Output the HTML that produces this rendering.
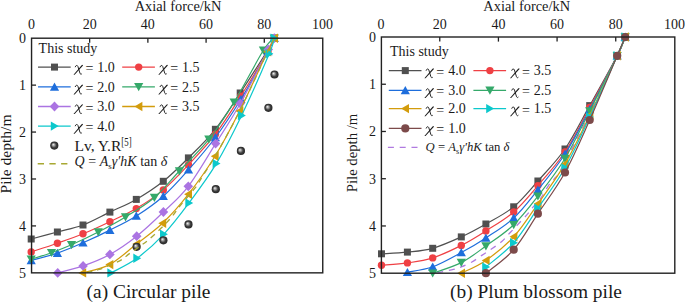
<!DOCTYPE html>
<html><head><meta charset="utf-8"><style>
html,body{margin:0;padding:0;background:#fff;}
svg{display:block;}
text{font-family:"Liberation Serif",serif;fill:#1a1a1a;}
</style></head><body>
<svg width="685" height="302" viewBox="0 0 685 302">
<defs>
<radialGradient id="ballg" cx="0.5" cy="0.5" r="0.5" fx="0.36" fy="0.36">
<stop offset="0" stop-color="#f4f4f4"/><stop offset="0.3" stop-color="#a0a0a0"/><stop offset="0.62" stop-color="#404040"/><stop offset="1" stop-color="#242424"/>
</radialGradient>
</defs>
<rect width="685" height="302" fill="#fff"/>

<g>
<svg x="0" y="0" width="685" height="302" overflow="visible">
<path d="M31.20,239.00 C35.57,237.83 48.77,234.33 57.40,232.00 C66.03,229.67 74.25,228.32 83.00,225.00 C91.75,221.68 101.02,216.37 109.90,212.10 C118.78,207.83 127.40,204.53 136.30,199.40 C145.20,194.27 154.62,188.22 163.30,181.30 C171.98,174.38 179.72,166.57 188.40,157.90 C197.08,149.23 206.77,140.12 215.40,129.30 C224.03,118.48 231.52,106.13 240.20,93.00 C248.88,79.87 261.82,59.63 267.50,50.50 C273.18,41.37 273.17,40.25 274.30,38.20" fill="none" stroke="#505050" stroke-width="1.2"/><rect x="27.70" y="235.50" width="7.0" height="7.0" fill="#505050"/><rect x="53.90" y="228.50" width="7.0" height="7.0" fill="#505050"/><rect x="79.50" y="221.50" width="7.0" height="7.0" fill="#505050"/><rect x="106.40" y="208.60" width="7.0" height="7.0" fill="#505050"/><rect x="132.80" y="195.90" width="7.0" height="7.0" fill="#505050"/><rect x="159.80" y="177.80" width="7.0" height="7.0" fill="#505050"/><rect x="184.90" y="154.40" width="7.0" height="7.0" fill="#505050"/><rect x="211.90" y="125.80" width="7.0" height="7.0" fill="#505050"/><rect x="236.70" y="89.50" width="7.0" height="7.0" fill="#505050"/><rect x="264.00" y="47.00" width="7.0" height="7.0" fill="#505050"/><rect x="270.80" y="34.70" width="7.0" height="7.0" fill="#505050"/>
<path d="M31.20,251.90 C35.57,250.45 48.77,246.22 57.40,243.20 C66.03,240.18 74.25,237.38 83.00,233.80 C91.75,230.22 101.02,225.90 109.90,221.70 C118.78,217.50 127.40,213.90 136.30,208.60 C145.20,203.30 154.60,197.20 163.30,189.90 C172.00,182.60 179.82,174.08 188.50,164.80 C197.18,155.52 206.70,145.62 215.40,134.20 C224.10,122.78 231.93,110.17 240.70,96.30 C249.47,82.43 262.40,60.68 268.00,51.00 C273.60,41.32 273.25,40.33 274.30,38.20" fill="none" stroke="#ef4044" stroke-width="1.2"/><circle cx="31.20" cy="251.90" r="3.7" fill="#ef4044"/><circle cx="57.40" cy="243.20" r="3.7" fill="#ef4044"/><circle cx="83.00" cy="233.80" r="3.7" fill="#ef4044"/><circle cx="109.90" cy="221.70" r="3.7" fill="#ef4044"/><circle cx="136.30" cy="208.60" r="3.7" fill="#ef4044"/><circle cx="163.30" cy="189.90" r="3.7" fill="#ef4044"/><circle cx="188.50" cy="164.80" r="3.7" fill="#ef4044"/><circle cx="215.40" cy="134.20" r="3.7" fill="#ef4044"/><circle cx="240.70" cy="96.30" r="3.7" fill="#ef4044"/><circle cx="268.00" cy="51.00" r="3.7" fill="#ef4044"/><circle cx="274.30" cy="38.20" r="3.7" fill="#ef4044"/>
<path d="M31.20,260.50 C35.57,259.27 48.77,256.05 57.40,253.10 C66.03,250.15 74.25,246.63 83.00,242.80 C91.75,238.97 101.02,234.57 109.90,230.10 C118.78,225.63 127.40,221.65 136.30,216.00 C145.20,210.35 154.60,203.90 163.30,196.20 C172.00,188.50 179.82,179.58 188.50,169.80 C197.18,160.02 206.67,149.25 215.40,137.50 C224.13,125.75 232.13,113.63 240.90,99.30 C249.67,84.97 262.43,61.68 268.00,51.50 C273.57,41.32 273.25,40.42 274.30,38.20" fill="none" stroke="#1e6edc" stroke-width="1.2"/><path d="M31.20,256.10 L35.80,264.30 L26.60,264.30Z" fill="#1e6edc"/><path d="M57.40,248.70 L62.00,256.90 L52.80,256.90Z" fill="#1e6edc"/><path d="M83.00,238.40 L87.60,246.60 L78.40,246.60Z" fill="#1e6edc"/><path d="M109.90,225.70 L114.50,233.90 L105.30,233.90Z" fill="#1e6edc"/><path d="M136.30,211.60 L140.90,219.80 L131.70,219.80Z" fill="#1e6edc"/><path d="M163.30,191.80 L167.90,200.00 L158.70,200.00Z" fill="#1e6edc"/><path d="M188.50,165.40 L193.10,173.60 L183.90,173.60Z" fill="#1e6edc"/><path d="M215.40,133.10 L220.00,141.30 L210.80,141.30Z" fill="#1e6edc"/><path d="M240.90,94.90 L245.50,103.10 L236.30,103.10Z" fill="#1e6edc"/><path d="M268.00,47.10 L272.60,55.30 L263.40,55.30Z" fill="#1e6edc"/><path d="M274.30,33.80 L278.90,42.00 L269.70,42.00Z" fill="#1e6edc"/>
<path d="M31.20,259.30 C34.58,258.20 44.78,255.12 51.50,252.70 C58.22,250.28 63.70,248.25 71.50,244.80 C79.30,241.35 89.30,236.63 98.30,232.00 C107.30,227.37 116.15,222.75 125.50,217.00 C134.85,211.25 145.42,205.17 154.40,197.50 C163.38,189.83 170.33,180.68 179.40,171.00 C188.47,161.32 199.68,150.87 208.80,139.40 C217.92,127.93 225.00,117.05 234.10,102.20 C243.20,87.35 256.70,60.97 263.40,50.30 C270.10,39.63 272.48,40.22 274.30,38.20" fill="none" stroke="#35a96a" stroke-width="1.2"/><path d="M31.20,263.70 L35.80,255.50 L26.60,255.50Z" fill="#35a96a"/><path d="M51.50,257.10 L56.10,248.90 L46.90,248.90Z" fill="#35a96a"/><path d="M71.50,249.20 L76.10,241.00 L66.90,241.00Z" fill="#35a96a"/><path d="M98.30,236.40 L102.90,228.20 L93.70,228.20Z" fill="#35a96a"/><path d="M125.50,221.40 L130.10,213.20 L120.90,213.20Z" fill="#35a96a"/><path d="M154.40,201.90 L159.00,193.70 L149.80,193.70Z" fill="#35a96a"/><path d="M179.40,175.40 L184.00,167.20 L174.80,167.20Z" fill="#35a96a"/><path d="M208.80,143.80 L213.40,135.60 L204.20,135.60Z" fill="#35a96a"/><path d="M234.10,106.60 L238.70,98.40 L229.50,98.40Z" fill="#35a96a"/><path d="M263.40,54.70 L268.00,46.50 L258.80,46.50Z" fill="#35a96a"/><path d="M274.30,42.60 L278.90,34.40 L269.70,34.40Z" fill="#35a96a"/>
<path d="M57.70,272.90 C61.93,271.73 74.40,268.98 83.10,265.90 C91.80,262.82 100.97,259.35 109.90,254.40 C118.83,249.45 127.78,243.27 136.70,236.20 C145.62,229.13 154.80,220.32 163.40,212.00 C172.00,203.68 179.60,197.70 188.30,186.30 C197.00,174.90 206.93,157.40 215.60,143.60 C224.27,129.80 231.52,119.20 240.30,103.50 C249.08,87.80 262.63,60.28 268.30,49.40 C273.97,38.52 273.30,40.07 274.30,38.20" fill="none" stroke="#ab74e2" stroke-width="1.2"/><path d="M57.70,268.00 L62.50,272.90 L57.70,277.80 L52.90,272.90Z" fill="#ab74e2"/><path d="M83.10,261.00 L87.90,265.90 L83.10,270.80 L78.30,265.90Z" fill="#ab74e2"/><path d="M109.90,249.50 L114.70,254.40 L109.90,259.30 L105.10,254.40Z" fill="#ab74e2"/><path d="M136.70,231.30 L141.50,236.20 L136.70,241.10 L131.90,236.20Z" fill="#ab74e2"/><path d="M163.40,207.10 L168.20,212.00 L163.40,216.90 L158.60,212.00Z" fill="#ab74e2"/><path d="M188.30,181.40 L193.10,186.30 L188.30,191.20 L183.50,186.30Z" fill="#ab74e2"/><path d="M215.60,138.70 L220.40,143.60 L215.60,148.50 L210.80,143.60Z" fill="#ab74e2"/><path d="M240.30,98.60 L245.10,103.50 L240.30,108.40 L235.50,103.50Z" fill="#ab74e2"/><path d="M268.30,44.50 L273.10,49.40 L268.30,54.30 L263.50,49.40Z" fill="#ab74e2"/><path d="M274.30,33.30 L279.10,38.20 L274.30,43.10 L269.50,38.20Z" fill="#ab74e2"/>
<path d="M82.50,272.90 C87.02,271.52 100.60,269.42 109.60,264.60 C118.60,259.78 127.68,250.90 136.50,244.00 C145.32,237.10 153.87,231.48 162.50,223.20 C171.13,214.92 179.55,205.47 188.30,194.30 C197.05,183.13 206.45,170.08 215.00,156.20 C223.55,142.32 230.85,128.40 239.60,111.00 C248.35,93.60 261.72,63.93 267.50,51.80 C273.28,39.67 273.17,40.47 274.30,38.20" fill="none" stroke="#d39c0c" stroke-width="1.2"/><path d="M78.30,272.90 L86.20,268.20 L86.20,277.60Z" fill="#d39c0c"/><path d="M105.40,264.60 L113.30,259.90 L113.30,269.30Z" fill="#d39c0c"/><path d="M132.30,244.00 L140.20,239.30 L140.20,248.70Z" fill="#d39c0c"/><path d="M158.30,223.20 L166.20,218.50 L166.20,227.90Z" fill="#d39c0c"/><path d="M184.10,194.30 L192.00,189.60 L192.00,199.00Z" fill="#d39c0c"/><path d="M210.80,156.20 L218.70,151.50 L218.70,160.90Z" fill="#d39c0c"/><path d="M235.40,111.00 L243.30,106.30 L243.30,115.70Z" fill="#d39c0c"/><path d="M263.30,51.80 L271.20,47.10 L271.20,56.50Z" fill="#d39c0c"/><path d="M270.10,38.20 L278.00,33.50 L278.00,42.90Z" fill="#d39c0c"/>
<path d="M111.00,272.90 C115.33,270.47 128.22,264.73 137.00,258.30 C145.78,251.87 155.03,243.53 163.70,234.30 C172.37,225.07 180.23,214.68 189.00,202.90 C197.77,191.12 207.53,178.17 216.30,163.60 C225.07,149.03 232.78,133.80 241.60,115.50 C250.42,97.20 263.75,66.68 269.20,53.80 C274.65,40.92 273.45,40.80 274.30,38.20" fill="none" stroke="#0cc8cc" stroke-width="1.2"/><path d="M115.20,272.90 L107.30,268.20 L107.30,277.60Z" fill="#0cc8cc"/><path d="M141.20,258.30 L133.30,253.60 L133.30,263.00Z" fill="#0cc8cc"/><path d="M167.90,234.30 L160.00,229.60 L160.00,239.00Z" fill="#0cc8cc"/><path d="M193.20,202.90 L185.30,198.20 L185.30,207.60Z" fill="#0cc8cc"/><path d="M220.50,163.60 L212.60,158.90 L212.60,168.30Z" fill="#0cc8cc"/><path d="M245.80,115.50 L237.90,110.80 L237.90,120.20Z" fill="#0cc8cc"/><path d="M273.40,53.80 L265.50,49.10 L265.50,58.50Z" fill="#0cc8cc"/><path d="M278.50,38.20 L270.60,33.50 L270.60,42.90Z" fill="#0cc8cc"/>
<circle cx="274.50" cy="74.50" r="4.1" fill="url(#ballg)"/>
<circle cx="268.40" cy="107.80" r="4.1" fill="url(#ballg)"/>
<circle cx="240.90" cy="150.90" r="4.1" fill="url(#ballg)"/>
<circle cx="215.80" cy="189.20" r="4.1" fill="url(#ballg)"/>
<circle cx="188.50" cy="224.40" r="4.1" fill="url(#ballg)"/>
<circle cx="163.40" cy="240.30" r="4.1" fill="url(#ballg)"/>
<circle cx="136.60" cy="246.80" r="4.1" fill="url(#ballg)"/>
<path d="M274.30,38.20 C273.17,40.47 273.28,39.63 267.50,51.80 C261.72,63.97 248.35,93.77 239.60,111.20 C230.85,128.63 221.22,145.50 215.00,156.40 C208.78,167.30 205.53,171.45 202.30,176.60 C199.07,181.75 199.32,182.43 195.60,187.30 C191.88,192.17 183.72,201.20 180.00,205.80 C176.28,210.40 175.57,212.05 173.30,214.90 C171.03,217.75 169.00,220.13 166.40,222.90 C163.80,225.67 160.80,228.58 157.70,231.50 C154.60,234.42 150.87,237.87 147.80,240.40 C144.73,242.93 142.53,244.37 139.30,246.70 C136.07,249.03 131.60,252.08 128.40,254.40 C125.20,256.72 125.00,258.08 120.10,260.60 C115.20,263.12 104.60,267.50 99.00,269.50 C93.40,271.50 88.58,272.08 86.50,272.60" fill="none" stroke="#a8a832" stroke-width="1.3" stroke-dasharray="5.5,5"/>
</svg>
<text x="31.43" y="29.2" font-size="14" text-anchor="middle">0</text><text x="89.65" y="29.2" font-size="14" text-anchor="middle">20</text><text x="147.87" y="29.2" font-size="14" text-anchor="middle">40</text><text x="206.09" y="29.2" font-size="14" text-anchor="middle">60</text><text x="264.31" y="29.2" font-size="14" text-anchor="middle">80</text><text x="322.53" y="29.2" font-size="14" text-anchor="middle">100</text><text x="26.05" y="43.00" font-size="14" text-anchor="end">0</text><text x="26.05" y="89.93" font-size="14" text-anchor="end">1</text><text x="26.05" y="136.86" font-size="14" text-anchor="end">2</text><text x="26.05" y="183.79" font-size="14" text-anchor="end">3</text><text x="26.05" y="230.72" font-size="14" text-anchor="end">4</text><text x="26.05" y="277.65" font-size="14" text-anchor="end">5</text><line x1="89.65" y1="38.20" x2="89.65" y2="42.80" stroke="#222" stroke-width="1.3"/><line x1="147.87" y1="38.20" x2="147.87" y2="42.80" stroke="#222" stroke-width="1.3"/><line x1="206.09" y1="38.20" x2="206.09" y2="42.80" stroke="#222" stroke-width="1.3"/><line x1="264.31" y1="38.20" x2="264.31" y2="42.80" stroke="#222" stroke-width="1.3"/><line x1="31.55" y1="85.13" x2="36.05" y2="85.13" stroke="#222" stroke-width="1.3"/><line x1="31.55" y1="132.06" x2="36.05" y2="132.06" stroke="#222" stroke-width="1.3"/><line x1="31.55" y1="178.99" x2="36.05" y2="178.99" stroke="#222" stroke-width="1.3"/><line x1="31.55" y1="225.92" x2="36.05" y2="225.92" stroke="#222" stroke-width="1.3"/><rect x="31.55" y="38.20" width="291.20" height="234.65" fill="none" stroke="#222" stroke-width="1.4"/><text x="178.00" y="10.8" font-size="14.4" text-anchor="middle">Axial force/kN</text>
</g>
<path d="M437.30,272.90 C439.98,272.32 449.40,270.40 453.40,269.40 C457.40,268.40 458.22,268.13 461.30,266.90 C464.38,265.67 468.48,263.92 471.90,262.00 C475.32,260.08 478.48,257.60 481.80,255.40 C485.12,253.20 488.47,251.12 491.80,248.80 C495.13,246.48 498.77,244.17 501.80,241.50 C504.83,238.83 505.83,237.23 510.00,232.80 C514.17,228.37 522.97,219.17 526.80,214.90 C530.63,210.63 530.63,210.03 533.00,207.20 C535.37,204.37 538.45,201.47 541.00,197.90 C543.55,194.33 545.97,189.13 548.30,185.80 C550.63,182.47 552.83,180.72 555.00,177.90 C557.17,175.08 555.52,179.62 561.30,168.90 C567.08,158.18 580.38,132.45 589.70,113.60 C599.02,94.75 611.28,68.57 617.20,55.80 C623.12,43.03 623.87,40.13 625.20,37.00" fill="none" stroke="#b07ae0" stroke-width="1.3" stroke-dasharray="6,5.8"/>
<path d="M381.50,253.80 C385.82,253.52 398.87,253.02 407.40,252.10 C415.93,251.18 423.72,250.83 432.70,248.30 C441.68,245.77 452.43,240.95 461.30,236.90 C470.17,232.85 477.17,229.02 485.90,224.00 C494.63,218.98 505.03,213.97 513.70,206.80 C522.37,199.63 529.35,190.63 537.90,181.00 C546.45,171.37 556.37,161.57 565.00,149.00 C573.63,136.43 581.00,121.13 589.70,105.60 C598.40,90.07 611.28,67.23 617.20,55.80 C623.12,44.37 623.87,40.13 625.20,37.00" fill="none" stroke="#505050" stroke-width="1.2"/><rect x="378.00" y="250.30" width="7.0" height="7.0" fill="#505050"/><rect x="403.90" y="248.60" width="7.0" height="7.0" fill="#505050"/><rect x="429.20" y="244.80" width="7.0" height="7.0" fill="#505050"/><rect x="457.80" y="233.40" width="7.0" height="7.0" fill="#505050"/><rect x="482.40" y="220.50" width="7.0" height="7.0" fill="#505050"/><rect x="510.20" y="203.30" width="7.0" height="7.0" fill="#505050"/><rect x="534.40" y="177.50" width="7.0" height="7.0" fill="#505050"/><rect x="561.50" y="145.50" width="7.0" height="7.0" fill="#505050"/><rect x="586.20" y="102.10" width="7.0" height="7.0" fill="#505050"/><rect x="613.70" y="52.30" width="7.0" height="7.0" fill="#505050"/><rect x="621.70" y="33.50" width="7.0" height="7.0" fill="#505050"/>
<path d="M381.50,265.20 C385.82,264.82 398.87,264.12 407.40,262.90 C415.93,261.68 423.72,260.82 432.70,257.90 C441.68,254.98 452.43,249.90 461.30,245.40 C470.17,240.90 477.17,236.47 485.90,230.90 C494.63,225.33 505.03,219.55 513.70,212.00 C522.37,204.45 529.35,195.60 537.90,185.60 C546.45,175.60 556.37,165.02 565.00,152.00 C573.63,138.98 581.00,123.53 589.70,107.50 C598.40,91.47 611.28,67.55 617.20,55.80 C623.12,44.05 623.87,40.13 625.20,37.00" fill="none" stroke="#ef4044" stroke-width="1.2"/><circle cx="381.50" cy="265.20" r="3.7" fill="#ef4044"/><circle cx="407.40" cy="262.90" r="3.7" fill="#ef4044"/><circle cx="432.70" cy="257.90" r="3.7" fill="#ef4044"/><circle cx="461.30" cy="245.40" r="3.7" fill="#ef4044"/><circle cx="485.90" cy="230.90" r="3.7" fill="#ef4044"/><circle cx="513.70" cy="212.00" r="3.7" fill="#ef4044"/><circle cx="537.90" cy="185.60" r="3.7" fill="#ef4044"/><circle cx="565.00" cy="152.00" r="3.7" fill="#ef4044"/><circle cx="589.70" cy="107.50" r="3.7" fill="#ef4044"/><circle cx="617.20" cy="55.80" r="3.7" fill="#ef4044"/><circle cx="625.20" cy="37.00" r="3.7" fill="#ef4044"/>
<path d="M407.40,272.30 C411.62,271.38 423.72,270.10 432.70,266.80 C441.68,263.50 452.43,257.32 461.30,252.50 C470.17,247.68 477.17,243.65 485.90,237.90 C494.63,232.15 505.03,226.02 513.70,218.00 C522.37,209.98 529.35,200.47 537.90,189.80 C546.45,179.13 556.37,167.38 565.00,154.00 C573.63,140.62 581.00,125.87 589.70,109.50 C598.40,93.13 611.28,67.88 617.20,55.80 C623.12,43.72 623.87,40.13 625.20,37.00" fill="none" stroke="#1e6edc" stroke-width="1.2"/><path d="M407.40,267.90 L412.00,276.10 L402.80,276.10Z" fill="#1e6edc"/><path d="M432.70,262.40 L437.30,270.60 L428.10,270.60Z" fill="#1e6edc"/><path d="M461.30,248.10 L465.90,256.30 L456.70,256.30Z" fill="#1e6edc"/><path d="M485.90,233.50 L490.50,241.70 L481.30,241.70Z" fill="#1e6edc"/><path d="M513.70,213.60 L518.30,221.80 L509.10,221.80Z" fill="#1e6edc"/><path d="M537.90,185.40 L542.50,193.60 L533.30,193.60Z" fill="#1e6edc"/><path d="M565.00,149.60 L569.60,157.80 L560.40,157.80Z" fill="#1e6edc"/><path d="M589.70,105.10 L594.30,113.30 L585.10,113.30Z" fill="#1e6edc"/><path d="M617.20,51.40 L621.80,59.60 L612.60,59.60Z" fill="#1e6edc"/><path d="M625.20,32.60 L629.80,40.80 L620.60,40.80Z" fill="#1e6edc"/>
<path d="M432.70,273.20 C437.47,271.43 452.43,267.13 461.30,262.60 C470.17,258.07 477.17,252.30 485.90,246.00 C494.63,239.70 505.03,233.10 513.70,224.80 C522.37,216.50 529.35,207.25 537.90,196.20 C546.45,185.15 556.37,172.70 565.00,158.50 C573.63,144.30 581.00,128.12 589.70,111.00 C598.40,93.88 611.28,68.13 617.20,55.80 C623.12,43.47 623.87,40.13 625.20,37.00" fill="none" stroke="#35a96a" stroke-width="1.2"/><path d="M432.70,277.60 L437.30,269.40 L428.10,269.40Z" fill="#35a96a"/><path d="M461.30,267.00 L465.90,258.80 L456.70,258.80Z" fill="#35a96a"/><path d="M485.90,250.40 L490.50,242.20 L481.30,242.20Z" fill="#35a96a"/><path d="M513.70,229.20 L518.30,221.00 L509.10,221.00Z" fill="#35a96a"/><path d="M537.90,200.60 L542.50,192.40 L533.30,192.40Z" fill="#35a96a"/><path d="M565.00,162.90 L569.60,154.70 L560.40,154.70Z" fill="#35a96a"/><path d="M589.70,115.40 L594.30,107.20 L585.10,107.20Z" fill="#35a96a"/><path d="M617.20,60.20 L621.80,52.00 L612.60,52.00Z" fill="#35a96a"/><path d="M625.20,41.40 L629.80,33.20 L620.60,33.20Z" fill="#35a96a"/>
<path d="M461.30,273.20 C465.40,271.07 477.17,266.47 485.90,260.40 C494.63,254.33 505.03,246.23 513.70,236.80 C522.37,227.37 529.35,215.95 537.90,203.80 C546.45,191.65 556.37,178.65 565.00,163.90 C573.63,149.15 581.00,133.32 589.70,115.30 C598.40,97.28 611.28,68.85 617.20,55.80 C623.12,42.75 623.87,40.13 625.20,37.00" fill="none" stroke="#d39c0c" stroke-width="1.2"/><path d="M457.10,273.20 L465.00,268.50 L465.00,277.90Z" fill="#d39c0c"/><path d="M481.70,260.40 L489.60,255.70 L489.60,265.10Z" fill="#d39c0c"/><path d="M509.50,236.80 L517.40,232.10 L517.40,241.50Z" fill="#d39c0c"/><path d="M533.70,203.80 L541.60,199.10 L541.60,208.50Z" fill="#d39c0c"/><path d="M560.80,163.90 L568.70,159.20 L568.70,168.60Z" fill="#d39c0c"/><path d="M585.50,115.30 L593.40,110.60 L593.40,120.00Z" fill="#d39c0c"/><path d="M613.00,55.80 L620.90,51.10 L620.90,60.50Z" fill="#d39c0c"/><path d="M621.00,37.00 L628.90,32.30 L628.90,41.70Z" fill="#d39c0c"/>
<path d="M485.90,267.00 C490.53,262.97 505.03,252.60 513.70,242.80 C522.37,233.00 529.35,220.67 537.90,208.20 C546.45,195.73 556.37,183.20 565.00,168.00 C573.63,152.80 581.00,135.70 589.70,117.00 C598.40,98.30 611.28,69.13 617.20,55.80 C623.12,42.47 623.87,40.13 625.20,37.00" fill="none" stroke="#0cc8cc" stroke-width="1.2"/><path d="M490.10,267.00 L482.20,262.30 L482.20,271.70Z" fill="#0cc8cc"/><path d="M517.90,242.80 L510.00,238.10 L510.00,247.50Z" fill="#0cc8cc"/><path d="M542.10,208.20 L534.20,203.50 L534.20,212.90Z" fill="#0cc8cc"/><path d="M569.20,168.00 L561.30,163.30 L561.30,172.70Z" fill="#0cc8cc"/><path d="M593.90,117.00 L586.00,112.30 L586.00,121.70Z" fill="#0cc8cc"/><path d="M621.40,55.80 L613.50,51.10 L613.50,60.50Z" fill="#0cc8cc"/><path d="M629.40,37.00 L621.50,32.30 L621.50,41.70Z" fill="#0cc8cc"/>
<path d="M485.90,273.20 C490.53,269.28 505.03,259.62 513.70,249.70 C522.37,239.78 529.35,226.57 537.90,213.70 C546.45,200.83 556.37,188.12 565.00,172.50 C573.63,156.88 581.00,139.45 589.70,120.00 C598.40,100.55 611.28,69.63 617.20,55.80 C623.12,41.97 623.87,40.13 625.20,37.00" fill="none" stroke="#7c4a4a" stroke-width="1.2"/><circle cx="485.90" cy="273.20" r="4.1" fill="#7c4a4a"/><circle cx="513.70" cy="249.70" r="4.1" fill="#7c4a4a"/><circle cx="537.90" cy="213.70" r="4.1" fill="#7c4a4a"/><circle cx="565.00" cy="172.50" r="4.1" fill="#7c4a4a"/><circle cx="589.70" cy="120.00" r="4.1" fill="#7c4a4a"/><circle cx="617.20" cy="55.80" r="4.1" fill="#7c4a4a"/><circle cx="625.20" cy="37.00" r="4.1" fill="#7c4a4a"/>
<text x="381.10" y="29.2" font-size="14" text-anchor="middle">0</text><text x="439.76" y="29.2" font-size="14" text-anchor="middle">20</text><text x="498.42" y="29.2" font-size="14" text-anchor="middle">40</text><text x="557.08" y="29.2" font-size="14" text-anchor="middle">60</text><text x="615.74" y="29.2" font-size="14" text-anchor="middle">80</text><text x="674.40" y="29.2" font-size="14" text-anchor="middle">100</text><text x="375.90" y="41.80" font-size="14" text-anchor="end">0</text><text x="375.90" y="89.04" font-size="14" text-anchor="end">1</text><text x="375.90" y="136.28" font-size="14" text-anchor="end">2</text><text x="375.90" y="183.52" font-size="14" text-anchor="end">3</text><text x="375.90" y="230.76" font-size="14" text-anchor="end">4</text><text x="375.90" y="278.00" font-size="14" text-anchor="end">5</text><line x1="439.76" y1="37.00" x2="439.76" y2="41.60" stroke="#222" stroke-width="1.3"/><line x1="498.42" y1="37.00" x2="498.42" y2="41.60" stroke="#222" stroke-width="1.3"/><line x1="557.08" y1="37.00" x2="557.08" y2="41.60" stroke="#222" stroke-width="1.3"/><line x1="615.74" y1="37.00" x2="615.74" y2="41.60" stroke="#222" stroke-width="1.3"/><line x1="381.40" y1="84.24" x2="385.90" y2="84.24" stroke="#222" stroke-width="1.3"/><line x1="381.40" y1="131.48" x2="385.90" y2="131.48" stroke="#222" stroke-width="1.3"/><line x1="381.40" y1="178.72" x2="385.90" y2="178.72" stroke="#222" stroke-width="1.3"/><line x1="381.40" y1="225.96" x2="385.90" y2="225.96" stroke="#222" stroke-width="1.3"/><rect x="381.40" y="37.00" width="293.40" height="236.20" fill="none" stroke="#222" stroke-width="1.4"/><text x="526.70" y="10.8" font-size="14.4" text-anchor="middle">Axial force/kN</text>
<text transform="translate(11.2,154) rotate(-90)" font-size="14.4" text-anchor="middle" textLength="79" lengthAdjust="spacingAndGlyphs">Pile depth/m</text>
<text transform="translate(357,153) rotate(-90)" font-size="14.4" text-anchor="middle" textLength="78.3" lengthAdjust="spacingAndGlyphs">Pile depth /m</text>
<text x="38.6" y="52.6" font-size="14">This study</text>
<line x1="38.00" y1="67.10" x2="70.70" y2="67.10" stroke="#505050" stroke-width="1.4"/><rect x="51.00" y="63.60" width="7.0" height="7.0" fill="#505050"/><path d="M73.50,74.65 L74.65,74.70 L83.05,65.45 L82.60,64.80 L81.60,65.25 Z" fill="#1a1a1a"/><path d="M75.20,67.20 C75.50,65.40 77.30,64.80 77.90,66.40 L79.90,73.00 C80.20,74.20 81.10,74.60 81.90,73.70" fill="none" stroke="#1a1a1a" stroke-width="0.95"/><text x="89.35" y="73.10" font-size="14" text-anchor="middle">=</text><text x="114.80" y="71.80" font-size="14" text-anchor="end">1.0</text>
<line x1="122.20" y1="67.10" x2="154.90" y2="67.10" stroke="#ef4044" stroke-width="1.4"/><circle cx="138.70" cy="67.10" r="3.7" fill="#ef4044"/><path d="M158.30,74.65 L159.45,74.70 L167.85,65.45 L167.40,64.80 L166.40,65.25 Z" fill="#1a1a1a"/><path d="M160.00,67.20 C160.30,65.40 162.10,64.80 162.70,66.40 L164.70,73.00 C165.00,74.20 165.90,74.60 166.70,73.70" fill="none" stroke="#1a1a1a" stroke-width="0.95"/><text x="174.15" y="73.10" font-size="14" text-anchor="middle">=</text><text x="199.60" y="71.80" font-size="14" text-anchor="end">1.5</text>
<line x1="38.00" y1="86.90" x2="70.70" y2="86.90" stroke="#1e6edc" stroke-width="1.4"/><path d="M54.50,82.50 L59.10,90.70 L49.90,90.70Z" fill="#1e6edc"/><path d="M73.50,94.45 L74.65,94.50 L83.05,85.25 L82.60,84.60 L81.60,85.05 Z" fill="#1a1a1a"/><path d="M75.20,87.00 C75.50,85.20 77.30,84.60 77.90,86.20 L79.90,92.80 C80.20,94.00 81.10,94.40 81.90,93.50" fill="none" stroke="#1a1a1a" stroke-width="0.95"/><text x="89.35" y="92.90" font-size="14" text-anchor="middle">=</text><text x="114.80" y="91.60" font-size="14" text-anchor="end">2.0</text>
<line x1="122.20" y1="86.90" x2="154.90" y2="86.90" stroke="#35a96a" stroke-width="1.4"/><path d="M138.70,91.30 L143.30,83.10 L134.10,83.10Z" fill="#35a96a"/><path d="M158.30,94.45 L159.45,94.50 L167.85,85.25 L167.40,84.60 L166.40,85.05 Z" fill="#1a1a1a"/><path d="M160.00,87.00 C160.30,85.20 162.10,84.60 162.70,86.20 L164.70,92.80 C165.00,94.00 165.90,94.40 166.70,93.50" fill="none" stroke="#1a1a1a" stroke-width="0.95"/><text x="174.15" y="92.90" font-size="14" text-anchor="middle">=</text><text x="199.60" y="91.60" font-size="14" text-anchor="end">2.5</text>
<line x1="38.00" y1="106.50" x2="70.70" y2="106.50" stroke="#ab74e2" stroke-width="1.4"/><path d="M54.50,101.60 L59.30,106.50 L54.50,111.40 L49.70,106.50Z" fill="#ab74e2"/><path d="M73.50,114.05 L74.65,114.10 L83.05,104.85 L82.60,104.20 L81.60,104.65 Z" fill="#1a1a1a"/><path d="M75.20,106.60 C75.50,104.80 77.30,104.20 77.90,105.80 L79.90,112.40 C80.20,113.60 81.10,114.00 81.90,113.10" fill="none" stroke="#1a1a1a" stroke-width="0.95"/><text x="89.35" y="112.50" font-size="14" text-anchor="middle">=</text><text x="114.80" y="111.20" font-size="14" text-anchor="end">3.0</text>
<line x1="122.20" y1="106.50" x2="154.90" y2="106.50" stroke="#d39c0c" stroke-width="1.4"/><path d="M134.50,106.50 L142.40,101.80 L142.40,111.20Z" fill="#d39c0c"/><path d="M158.30,114.05 L159.45,114.10 L167.85,104.85 L167.40,104.20 L166.40,104.65 Z" fill="#1a1a1a"/><path d="M160.00,106.60 C160.30,104.80 162.10,104.20 162.70,105.80 L164.70,112.40 C165.00,113.60 165.90,114.00 166.70,113.10" fill="none" stroke="#1a1a1a" stroke-width="0.95"/><text x="174.15" y="112.50" font-size="14" text-anchor="middle">=</text><text x="199.60" y="111.20" font-size="14" text-anchor="end">3.5</text>
<line x1="38.00" y1="126.10" x2="70.70" y2="126.10" stroke="#0cc8cc" stroke-width="1.4"/><path d="M58.70,126.10 L50.80,121.40 L50.80,130.80Z" fill="#0cc8cc"/><path d="M73.50,133.65 L74.65,133.70 L83.05,124.45 L82.60,123.80 L81.60,124.25 Z" fill="#1a1a1a"/><path d="M75.20,126.20 C75.50,124.40 77.30,123.80 77.90,125.40 L79.90,132.00 C80.20,133.20 81.10,133.60 81.90,132.70" fill="none" stroke="#1a1a1a" stroke-width="0.95"/><text x="89.35" y="132.10" font-size="14" text-anchor="middle">=</text><text x="114.80" y="130.80" font-size="14" text-anchor="end">4.0</text>
<circle cx="54.30" cy="145.60" r="4.1" fill="url(#ballg)"/>
<text x="74.4" y="151" font-size="14" textLength="47" lengthAdjust="spacingAndGlyphs">Lv, Y.R</text><text x="121.3" y="145.6" font-size="11.5" textLength="10.3" lengthAdjust="spacingAndGlyphs">[5]</text>
<line x1="37.7" y1="163.7" x2="68" y2="163.7" stroke="#a8a832" stroke-width="1.4" stroke-dasharray="6.3,5.4"/>
<text x="74.6" y="166.2" font-size="14"><tspan font-style="italic">Q</tspan> = <tspan font-style="italic">A</tspan><tspan font-size="9" dy="3">s</tspan><tspan font-style="italic" dy="-3">γ′hK</tspan> tan <tspan font-style="italic">δ</tspan></text>
<text x="390" y="55.9" font-size="14">This study</text>
<line x1="388.80" y1="70.60" x2="421.50" y2="70.60" stroke="#505050" stroke-width="1.4"/><rect x="401.80" y="67.10" width="7.0" height="7.0" fill="#505050"/><path d="M424.40,78.15 L425.55,78.20 L433.95,68.95 L433.50,68.30 L432.50,68.75 Z" fill="#1a1a1a"/><path d="M426.10,70.70 C426.40,68.90 428.20,68.30 428.80,69.90 L430.80,76.50 C431.10,77.70 432.00,78.10 432.80,77.20" fill="none" stroke="#1a1a1a" stroke-width="0.95"/><text x="440.25" y="76.60" font-size="14" text-anchor="middle">=</text><text x="465.70" y="75.30" font-size="14" text-anchor="end">4.0</text>
<line x1="473.40" y1="70.60" x2="506.10" y2="70.60" stroke="#ef4044" stroke-width="1.4"/><circle cx="489.90" cy="70.60" r="3.7" fill="#ef4044"/><path d="M510.00,78.15 L511.15,78.20 L519.55,68.95 L519.10,68.30 L518.10,68.75 Z" fill="#1a1a1a"/><path d="M511.70,70.70 C512.00,68.90 513.80,68.30 514.40,69.90 L516.40,76.50 C516.70,77.70 517.60,78.10 518.40,77.20" fill="none" stroke="#1a1a1a" stroke-width="0.95"/><text x="525.85" y="76.60" font-size="14" text-anchor="middle">=</text><text x="551.30" y="75.30" font-size="14" text-anchor="end">3.5</text>
<line x1="388.80" y1="90.40" x2="421.50" y2="90.40" stroke="#1e6edc" stroke-width="1.4"/><path d="M405.30,86.00 L409.90,94.20 L400.70,94.20Z" fill="#1e6edc"/><path d="M424.40,97.95 L425.55,98.00 L433.95,88.75 L433.50,88.10 L432.50,88.55 Z" fill="#1a1a1a"/><path d="M426.10,90.50 C426.40,88.70 428.20,88.10 428.80,89.70 L430.80,96.30 C431.10,97.50 432.00,97.90 432.80,97.00" fill="none" stroke="#1a1a1a" stroke-width="0.95"/><text x="440.25" y="96.40" font-size="14" text-anchor="middle">=</text><text x="465.70" y="95.10" font-size="14" text-anchor="end">3.0</text>
<line x1="473.40" y1="90.40" x2="506.10" y2="90.40" stroke="#35a96a" stroke-width="1.4"/><path d="M489.90,94.80 L494.50,86.60 L485.30,86.60Z" fill="#35a96a"/><path d="M510.00,97.95 L511.15,98.00 L519.55,88.75 L519.10,88.10 L518.10,88.55 Z" fill="#1a1a1a"/><path d="M511.70,90.50 C512.00,88.70 513.80,88.10 514.40,89.70 L516.40,96.30 C516.70,97.50 517.60,97.90 518.40,97.00" fill="none" stroke="#1a1a1a" stroke-width="0.95"/><text x="525.85" y="96.40" font-size="14" text-anchor="middle">=</text><text x="551.30" y="95.10" font-size="14" text-anchor="end">2.5</text>
<line x1="388.80" y1="108.60" x2="421.50" y2="108.60" stroke="#d39c0c" stroke-width="1.4"/><path d="M401.10,108.60 L409.00,103.90 L409.00,113.30Z" fill="#d39c0c"/><path d="M424.40,116.15 L425.55,116.20 L433.95,106.95 L433.50,106.30 L432.50,106.75 Z" fill="#1a1a1a"/><path d="M426.10,108.70 C426.40,106.90 428.20,106.30 428.80,107.90 L430.80,114.50 C431.10,115.70 432.00,116.10 432.80,115.20" fill="none" stroke="#1a1a1a" stroke-width="0.95"/><text x="440.25" y="114.60" font-size="14" text-anchor="middle">=</text><text x="465.70" y="113.30" font-size="14" text-anchor="end">2.0</text>
<line x1="473.40" y1="108.60" x2="506.10" y2="108.60" stroke="#0cc8cc" stroke-width="1.4"/><path d="M494.10,108.60 L486.20,103.90 L486.20,113.30Z" fill="#0cc8cc"/><path d="M510.00,116.15 L511.15,116.20 L519.55,106.95 L519.10,106.30 L518.10,106.75 Z" fill="#1a1a1a"/><path d="M511.70,108.70 C512.00,106.90 513.80,106.30 514.40,107.90 L516.40,114.50 C516.70,115.70 517.60,116.10 518.40,115.20" fill="none" stroke="#1a1a1a" stroke-width="0.95"/><text x="525.85" y="114.60" font-size="14" text-anchor="middle">=</text><text x="551.30" y="113.30" font-size="14" text-anchor="end">1.5</text>
<line x1="388.80" y1="128.40" x2="421.50" y2="128.40" stroke="#7c4a4a" stroke-width="1.4"/><circle cx="405.30" cy="128.40" r="4.1" fill="#7c4a4a"/><path d="M424.40,135.95 L425.55,136.00 L433.95,126.75 L433.50,126.10 L432.50,126.55 Z" fill="#1a1a1a"/><path d="M426.10,128.50 C426.40,126.70 428.20,126.10 428.80,127.70 L430.80,134.30 C431.10,135.50 432.00,135.90 432.80,135.00" fill="none" stroke="#1a1a1a" stroke-width="0.95"/><text x="440.25" y="134.40" font-size="14" text-anchor="middle">=</text><text x="465.70" y="133.10" font-size="14" text-anchor="end">1.0</text>
<line x1="387.9" y1="147.4" x2="418" y2="147.4" stroke="#b07ae0" stroke-width="1.4" stroke-dasharray="6,5.8"/>
<text x="425.6" y="150.5" font-size="12.7"><tspan font-style="italic">Q</tspan> = <tspan font-style="italic">A</tspan><tspan font-size="8" dy="3">s</tspan><tspan font-style="italic" dy="-3">γ′hK</tspan> tan <tspan font-style="italic">δ</tspan></text>
<text x="148.5" y="297.7" font-size="19.4" text-anchor="middle">(a) Circular pile</text>
<text x="536" y="297.7" font-size="19.4" text-anchor="middle">(b) Plum blossom pile</text>
</svg></body></html>
